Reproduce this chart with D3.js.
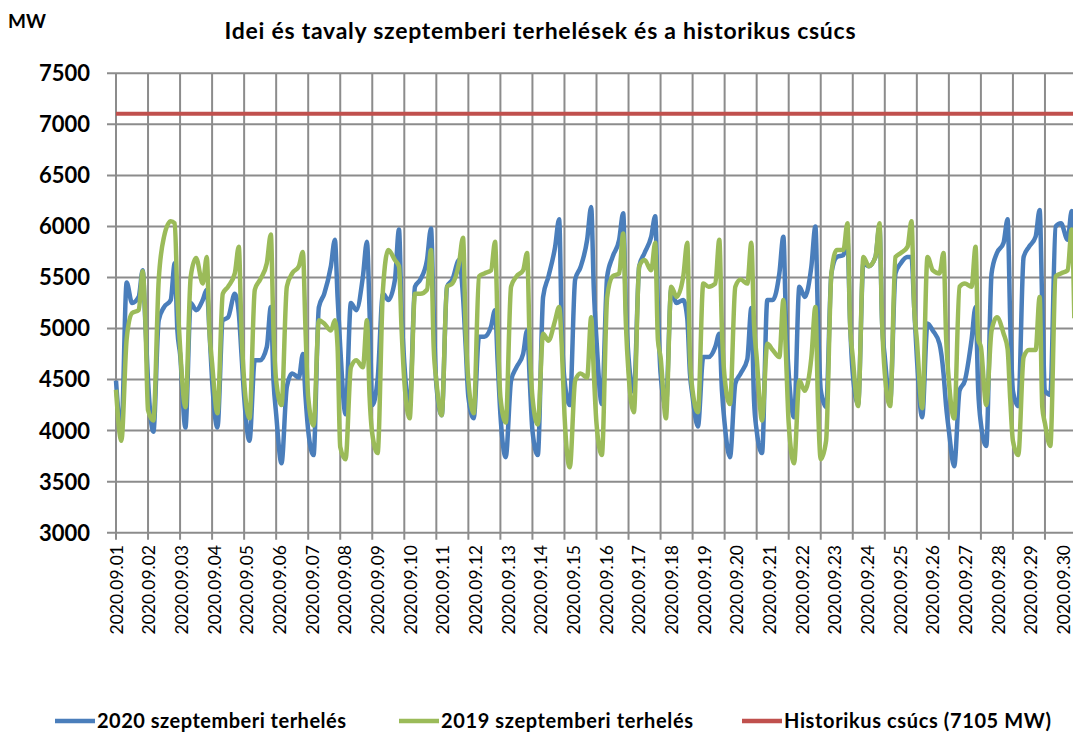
<!DOCTYPE html>
<html>
<head>
<meta charset="utf-8">
<script src="https://cdn.jsdelivr.net/npm/d3@7"></script>
<style>
  html, body { margin: 0; padding: 0; background: #fff; }
  svg { display: block; font-family: Lato, "Open Sans", sans-serif; }
</style>
</head>
<body>
<div id="chart"></div>
<script>
const sampleHours = [0, 4, 8, 12, 17, 20, 22];

// 2020 September load (MW), one row per day
const load2020 = [
  [4490, 3980, 5450, 5250, 5310, 5570, 5050],
  [4490, 3990, 5080, 5210, 5280, 5640, 4980],
  [4750, 4030, 5250, 5180, 5280, 5380, 4980],
  [4490, 4030, 5080, 5110, 5340, 5150, 4750],
  [4330, 3900, 4690, 4690, 4820, 5210, 4490],
  [4160, 3680, 4430, 4560, 4520, 4750, 4330],
  [4000, 3760, 5210, 5340, 5610, 5870, 5310],
  [4820, 4160, 5250, 5180, 5510, 5850, 5150],
  [4250, 4500, 5340, 5280, 5480, 5970, 5150],
  [4660, 4230, 5410, 5480, 5670, 5980, 5150],
  [4450, 4150, 5410, 5480, 5670, 5310, 4820],
  [4330, 4120, 4920, 4920, 5020, 5180, 4660],
  [4160, 3740, 4490, 4620, 4750, 4980, 4490],
  [4000, 3760, 5310, 5510, 5800, 6070, 4980],
  [4500, 4250, 5480, 5600, 5870, 6190, 5380],
  [4890, 4260, 5510, 5700, 5870, 6130, 5210],
  [4720, 4380, 5610, 5740, 5900, 6100, 5210],
  [4560, 4240, 5380, 5250, 5280, 5100, 4560],
  [4330, 4040, 4720, 4720, 4820, 4950, 4390],
  [4070, 3740, 4460, 4560, 4700, 5200, 4300],
  [4000, 3780, 5280, 5280, 5540, 5900, 5050],
  [4560, 4130, 5410, 5310, 5610, 6000, 5050],
  [4400, 4230, 5540, 5700, 5720, 5870, 5050],
  [4560, 4260, 5640, 5610, 5700, 6000, 5050],
  [4720, 4280, 5540, 5640, 5700, 5700, 5210],
  [4720, 4130, 5050, 4980, 4850, 4560, 4230],
  [4000, 3650, 4390, 4490, 4890, 5210, 4390],
  [4070, 3850, 5540, 5740, 5840, 6070, 5050],
  [4390, 4240, 5700, 5800, 5900, 6160, 5210],
  [4390, 4350, 6000, 6030, 5870, 6150, 5900]
];

// 2019 September load (MW), one row per day
const load2019 = [
  [4400, 3900, 4900, 5150, 5180, 5560, 5080],
  [4200, 4100, 5475, 5900, 6050, 6030, 5310],
  [4820, 4230, 5510, 5690, 5440, 5700, 4980],
  [4660, 4170, 5340, 5410, 5540, 5800, 4980],
  [4490, 4120, 5380, 5480, 5640, 5920, 4980],
  [4490, 4250, 5410, 5540, 5610, 5750, 4980],
  [4330, 4050, 5080, 5050, 4980, 5080, 4820],
  [3840, 3720, 4620, 4690, 4620, 5080, 4330],
  [3970, 3780, 5380, 5770, 5670, 5610, 4980],
  [4490, 4120, 5340, 5340, 5380, 5770, 4820],
  [4490, 4150, 5410, 5440, 5640, 5890, 4980],
  [4490, 4170, 5510, 5540, 5570, 5850, 4980],
  [4330, 4080, 5410, 5510, 5570, 5740, 4820],
  [4330, 4060, 4950, 4880, 5080, 5210, 4820],
  [4160, 3640, 4490, 4560, 4520, 5110, 4560],
  [4070, 3760, 5310, 5510, 5540, 5930, 5050],
  [4560, 4180, 5610, 5670, 5570, 5840, 4890],
  [4720, 4120, 5410, 5310, 5510, 5840, 4720],
  [4390, 4180, 5440, 5410, 5440, 5870, 4980],
  [4520, 4260, 5410, 5480, 5440, 5840, 5050],
  [4720, 4100, 4850, 4790, 4720, 5280, 4720],
  [4070, 3680, 4490, 4390, 4720, 5210, 4230],
  [3720, 3900, 5540, 5770, 5770, 6030, 5050],
  [4720, 4240, 5700, 5610, 5700, 6030, 5050],
  [4560, 4240, 5700, 5740, 5800, 6050, 5210],
  [4890, 4220, 5700, 5570, 5540, 5740, 4890],
  [4490, 4120, 5410, 5440, 5410, 5800, 4890],
  [4820, 4250, 4980, 5110, 4950, 4800, 4300],
  [3900, 3760, 4720, 4790, 4790, 5310, 4230],
  [4070, 3850, 5510, 5540, 5570, 5970, 5100]
];

const historicPeak = 7105;
const yTicks = [3000, 3500, 4000, 4500, 5000, 5500, 6000, 6500, 7000, 7500];
const dayLabels = d3.range(1, 31).map(d => '2020.09.' + String(d).padStart(2, '0'));

const seriesInfo = [
  {name: '2020 szeptemberi terhelés', color: '#4a7ebb', rows: load2020},
  {name: '2019 szeptemberi terhelés', color: '#9bbb59', rows: load2019}
];

const width = 1073, height = 733;
const gridColor = '#8c8c8c';

const svg = d3.select('#chart').append('svg')
    .attr('width', width)
    .attr('height', height);

svg.append('rect').attr('width', width).attr('height', height).attr('fill', '#fff');

// hours since 2020.09.01 00:00
const x = d3.scaleLinear().domain([0, 30 * 24]).range([116, 1077]);
const y = d3.scaleLinear().domain([3000, 7500]).range([532.7, 73.3]);
// Excel spaced the date labels a little wider than the day gridlines
const xLabel = d3.scalePoint().domain(dayLabels).range([116.7, 1064]);

// Horizontal gridlines
svg.append('g')
    .selectAll('line')
    .data(yTicks)
    .enter()
    .append('line')
    .attr('x1', 107)
    .attr('x2', width)
    .attr('y1', d => y(d))
    .attr('y2', d => y(d))
    .style('stroke', gridColor)
    .style('stroke-width', 2);

// Vertical day gridlines (with ticks below the axis)
svg.append('g')
    .selectAll('line')
    .data(d3.range(0, 31))
    .enter()
    .append('line')
    .attr('x1', d => x(d * 24))
    .attr('x2', d => x(d * 24))
    .attr('y1', y(7500))
    .attr('y2', y(3000) + 7)
    .style('stroke', gridColor)
    .style('stroke-width', 2);

// Y tick labels
svg.append('g')
    .selectAll('text')
    .data(yTicks)
    .enter()
    .append('text')
    .attr('x', 90)
    .attr('y', d => y(d))
    .attr('dy', '0.36em')
    .attr('text-anchor', 'end')
    .style('font-size', '22px')
    .style('font-weight', 'bold')
    .text(d => d);

// Date labels
svg.append('g')
    .selectAll('text')
    .data(dayLabels)
    .enter()
    .append('text')
    .attr('transform', d => 'translate(' + xLabel(d) + ',545) rotate(-90)')
    .attr('dy', '0.35em')
    .attr('text-anchor', 'end')
    .style('font-size', '17.5px')
    .text(d => d);

// Load lines
const line = d3.line()
    .x(d => x(d.t))
    .y(d => y(d.v))
    .curve(d3.curveMonotoneX);

function toPoints(rows) {
    let pts = [];
    rows.forEach((row, day) => {
        row.forEach((v, i) => {
            pts.push({t: day * 24 + sampleHours[i], v: v});
        });
    });
    return pts;
}

seriesInfo.forEach((s) => {
    svg.append('path')
        .datum(toPoints(s.rows))
        .attr('d', line)
        .attr('fill', 'none')
        .style('stroke', s.color)
        .style('stroke-width', 4.5)
        .style('stroke-linejoin', 'round');
});

// Historic peak
svg.append('line')
    .attr('x1', x(0))
    .attr('x2', x(30 * 24))
    .attr('y1', y(historicPeak))
    .attr('y2', y(historicPeak))
    .style('stroke', '#c0504d')
    .style('stroke-width', 4);

// Title and unit
svg.append('text')
    .attr('x', 540)
    .attr('y', 39)
    .attr('text-anchor', 'middle')
    .attr('textLength', 631)
    .attr('lengthAdjust', 'spacing')
    .style('font-size', '23px')
    .style('font-weight', 'bold')
    .text('Idei és tavaly szeptemberi terhelések és a historikus csúcs');

svg.append('text')
    .attr('x', 8)
    .attr('y', 28)
    .style('font-size', '19px')
    .style('font-weight', 'bold')
    .text('MW');

// Legend
const legendItems = [
    {name: seriesInfo[0].name, color: seriesInfo[0].color, x: 55, w: 249},
    {name: seriesInfo[1].name, color: seriesInfo[1].color, x: 399, w: 252},
    {name: 'Historikus csúcs (' + historicPeak + ' MW)', color: '#c0504d', x: 742, w: 267}
];

const legend = svg.append('g')
    .selectAll('g')
    .data(legendItems)
    .enter()
    .append('g')
    .attr('transform', d => 'translate(' + d.x + ',721)');

legend.append('line')
    .attr('x1', 0)
    .attr('x2', 40)
    .style('stroke', d => d.color)
    .style('stroke-width', 4.5);

legend.append('text')
    .attr('x', 42)
    .attr('y', 7)
    .attr('textLength', d => d.w)
    .attr('lengthAdjust', 'spacing')
    .style('font-size', '20px')
    .style('font-weight', 'bold')
    .text(d => d.name);
</script>
</body>
</html>
